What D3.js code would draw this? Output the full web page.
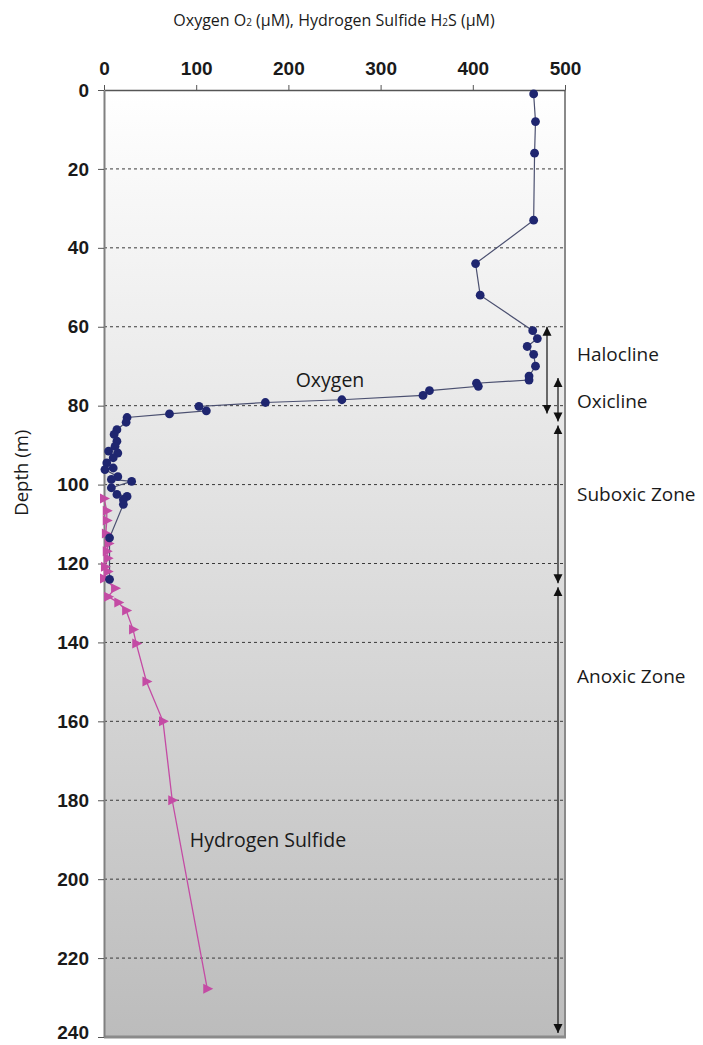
<!DOCTYPE html>
<html lang="en">
<head>
<meta charset="UTF-8">
<title>Oxygen and hydrogen sulfide profile</title>
<script src="https://cdn.jsdelivr.net/npm/d3@7"></script>
<style>
  body { margin: 0; background: #fff; }
  svg text { fill: #1a1a1a; }
</style>
</head>
<body>
<script>
// oxygen profile (depth m, O2 µM)
var o2Depth = [1, 8, 16, 33, 44, 52, 61, 63, 65, 67, 70, 72.5, 73.5, 74.3, 75.1, 76.2, 77.4, 78.5, 79.2, 80.2, 81.3, 82.1,
               83, 84.2, 86.1, 87.3, 89, 90.3, 91.5, 92, 93.2, 94.5, 95.8, 96.2, 98, 98.7, 99.2, 100.8, 102.5, 103, 103.8, 105, 113.5, 124];
var o2Value = [466, 468, 467, 466, 403, 408, 465, 470, 459, 466, 468, 461, 461, 404, 406, 353, 346, 258, 175, 103, 111, 71,
               25, 24, 14, 11, 14, 12, 5, 15, 10, 3, 10, 1, 15, 8, 30, 8, 14, 25, 21, 21, 6, 6];

// hydrogen sulfide profile (depth m, H2S µM)
var h2sDepth = [103.5, 106.6, 109.1, 112.4, 114.9, 116.9, 118.7, 120.8, 122, 123.8, 126.3, 128.4, 129.9, 131.9, 136.7, 140.3, 149.9, 160, 180, 227.8];
var h2sValue = [0, 3, 3, 2, 5, 3, 4, 1, 4, 0, 12, 4.5, 15.5, 24, 31.5, 35, 46, 64, 74, 112];

var xTicks = [0, 100, 200, 300, 400, 500];
var yTicks = [0, 20, 40, 60, 80, 100, 120, 140, 160, 180, 200, 220, 240];
var gridDepths = [20, 40, 60, 80, 100, 120, 140, 160, 180, 200, 220];

// zones marked with arrows on the right
var zoneNames = ["Halocline", "Oxicline", "Suboxic Zone", "Anoxic Zone"];
var zoneTop = [60, 73, 85, 126];
var zoneBottom = [82, 84, 125, 239];
var zoneLabelDepth = [67, 79, 102.5, 148.5];

var width = 703, height = 1045;
var pLeft = 104, pRight = 565, pTop = 90, pBottom = 1037;

var svg = d3.select("body").append("svg").attr("width", width).attr("height", height);

var x = d3.scaleLinear().domain([0, 500]).range([pLeft, pRight]);
var y = d3.scaleLinear().domain([0, 240]).range([pTop, pBottom]);

var defs = svg.append("defs");
var grad = defs.append("linearGradient").attr("id", "bg").attr("x1", 0).attr("y1", 0).attr("x2", 0).attr("y2", 1);
grad.append("stop").attr("offset", "0%").attr("stop-color", "#ffffff");
grad.append("stop").attr("offset", "100%").attr("stop-color", "#bcbcbc");

defs.append("marker").attr("id", "head")
    .attr("viewBox", "0 0 10 10").attr("refX", 10).attr("refY", 5)
    .attr("markerUnits", "userSpaceOnUse").attr("markerWidth", 9).attr("markerHeight", 10)
    .attr("orient", "auto-start-reverse")
  .append("path").attr("d", "M0,0 L10,5 L0,10 z").attr("fill", "#111");

// background
svg.append("rect").attr("x", pLeft).attr("y", pTop).attr("width", pRight - pLeft).attr("height", pBottom - pTop)
    .attr("fill", "url(#bg)");

// dotted grid
svg.append("g").selectAll("line").data(gridDepths).enter().append("line")
    .attr("x1", pLeft).attr("x2", pRight)
    .attr("y1", function(d) { return y(d); }).attr("y2", function(d) { return y(d); })
    .attr("stroke", "#3a3a3a").attr("stroke-width", 1).attr("stroke-dasharray", "3,3");

// frame (right + bottom)
svg.append("line").attr("x1", pRight).attr("x2", pRight).attr("y1", pTop).attr("y2", pBottom)
    .attr("stroke", "#8a8a8a").attr("stroke-width", 2);
svg.append("line").attr("x1", pLeft).attr("x2", pRight + 1).attr("y1", pBottom).attr("y2", pBottom)
    .attr("stroke", "#8a8a8a").attr("stroke-width", 3);

// axes
var xAxis = d3.axisTop(x).tickValues(xTicks).tickSize(5).tickPadding(10).tickSizeOuter(0);
var gx = svg.append("g").attr("transform", "translate(0," + pTop + ")").call(xAxis);
gx.select(".domain").attr("stroke", "#555").attr("stroke-width", 1.5);
gx.selectAll(".tick line").attr("stroke", "#555");

var yAxis = d3.axisLeft(y).tickValues(yTicks).tickSize(6).tickPadding(9).tickSizeOuter(0);
var gy = svg.append("g").attr("transform", "translate(" + pLeft + ",0)").call(yAxis);
gy.select(".domain").attr("stroke", "#808080").attr("stroke-width", 2);
gy.selectAll(".tick line").attr("stroke", "#555");
// keep the lowest label inside the page
gy.selectAll(".tick text").filter(function(d) { return d === 240; }).attr("dy", "0.1em");

svg.selectAll(".tick text")
    .attr("font-family", "'Liberation Sans', Arial, sans-serif")
    .attr("font-weight", "bold").attr("font-size", 19).attr("fill", "#1a1a1a");

// oxygen
var o2 = o2Depth.map(function(d, i) { return [o2Value[i], d]; });
var line = d3.line().x(function(d) { return x(d[0]); }).y(function(d) { return y(d[1]); });
svg.append("path").datum(o2).attr("d", line).attr("fill", "none")
    .attr("stroke", "#4b5070").attr("stroke-width", 1.2);

// hydrogen sulfide
var h2s = h2sDepth.map(function(d, i) { return [h2sValue[i], d]; });
svg.append("path").datum(h2s).attr("d", line).attr("fill", "none")
    .attr("stroke", "#c44ba4").attr("stroke-width", 1.3);

svg.append("g").selectAll("path").data(h2s).enter().append("path")
    .attr("transform", function(d) { return "translate(" + x(d[0]) + "," + y(d[1]) + ")"; })
    .attr("d", "M-4,-5 L6,0 L-4,5 Z")
    .attr("fill", "#c44ba4");

svg.append("g").selectAll("circle").data(o2).enter().append("circle")
    .attr("cx", function(d) { return x(d[0]); }).attr("cy", function(d) { return y(d[1]); })
    .attr("r", 4.4).attr("fill", "#1f2670");

// zone arrows
var arrowX = [547, 558, 558, 558];
svg.append("g").selectAll("line").data(zoneNames).enter().append("line")
    .attr("x1", function(d, i) { return arrowX[i]; }).attr("x2", function(d, i) { return arrowX[i]; })
    .attr("y1", function(d, i) { return y(zoneTop[i]); }).attr("y2", function(d, i) { return y(zoneBottom[i]); })
    .attr("stroke", "#111").attr("stroke-width", 1.2)
    .attr("marker-start", "url(#head)").attr("marker-end", "url(#head)");

var labelFont = "'Open Sans', 'Noto Sans', sans-serif";
svg.append("g").selectAll("text").data(zoneNames).enter().append("text")
    .attr("x", 577).attr("y", function(d, i) { return y(zoneLabelDepth[i]); })
    .attr("dy", "0.35em")
    .attr("font-family", labelFont).attr("font-size", 19)
    .text(function(d) { return d; });

svg.append("text").attr("x", 330).attr("y", y(75.3)).attr("text-anchor", "middle")
    .attr("font-family", labelFont).attr("font-size", 19.5).text("Oxygen");
svg.append("text").attr("x", 268).attr("y", y(191.8)).attr("text-anchor", "middle")
    .attr("font-family", labelFont).attr("font-size", 19.5).text("Hydrogen Sulfide");

// titles
var title = svg.append("text").attr("x", 334).attr("y", 26).attr("text-anchor", "middle")
    .attr("font-family", labelFont).attr("font-size", 16);
title.append("tspan").text("Oxygen O");
title.append("tspan").attr("font-size", 10).text("2");
title.append("tspan").text(" (µM), Hydrogen Sulfide H");
title.append("tspan").attr("font-size", 10).text("2");
title.append("tspan").text("S (µM)");

svg.append("text").attr("transform", "translate(28," + y(97) + ") rotate(-90)")
    .attr("text-anchor", "middle").attr("font-family", labelFont).attr("font-size", 18.5)
    .text("Depth (m)");
</script>
</body>
</html>
